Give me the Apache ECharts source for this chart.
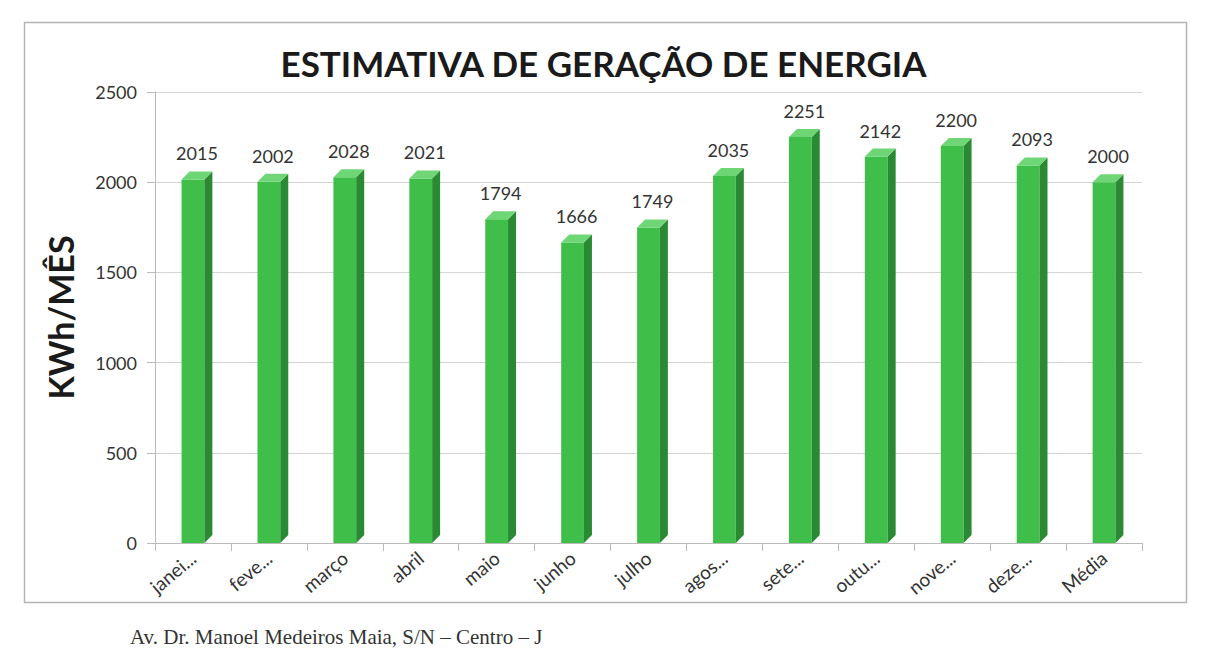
<!DOCTYPE html>
<html><head><meta charset="utf-8">
<script src="https://cdn.jsdelivr.net/npm/echarts@6/dist/echarts.min.js"></script>
<style>html,body{margin:0;padding:0;background:#fff}#c{width:1207px;height:665px}</style>
</head><body><div id="c"></div>
<script>
const categories = ['janei...','feve...','março','abril','maio','junho','julho','agos...','sete...','outu...','nove...','deze...','Média'];
const values = [2015,2002,2028,2021,1794,1666,1749,2035,2251,2142,2200,2093,2000];
const yTicks = [0,500,1000,1500,2000,2500];

const chart = echarts.init(document.getElementById('c'), null, {renderer:'svg'});
const FONT = 'Lato, "Open Sans", sans-serif';
chart.setOption({
  backgroundColor:'#fff',
  animation:false,
  title:{text:'ESTIMATIVA DE GERAÇÃO DE ENERGIA', left:'center', top:40,
    textStyle:{fontFamily:FONT, fontSize:35, fontWeight:'bold', color:'#1a1a1a'}},
  grid:{left:155, right:65, top:92, bottom:122},
  xAxis:{type:'category', data:categories, boundaryGap:true,
    axisLine:{lineStyle:{color:'#bbb'}}, axisTick:{show:true, lineStyle:{color:'#bbb'}, length:8},
    axisLabel:{rotate:40, fontFamily:FONT, fontSize:19, color:'#333', margin:12, interval:0}},
  yAxis:{type:'value', min:0, max:2500, interval:500,
    name:'KWh/MÊS', nameLocation:'middle', nameGap:78, nameRotate:90,
    nameTextStyle:{fontFamily:FONT, fontSize:34, fontWeight:'bold', color:'#1a1a1a'},
    axisLine:{show:true, lineStyle:{color:'#bbb'}}, axisTick:{show:true, lineStyle:{color:'#bbb'}, length:8},
    axisLabel:{fontFamily:FONT, fontSize:18, color:'#333', margin:18,
      formatter:v=> yTicks.includes(v)? String(v):''},
    splitLine:{lineStyle:{color:'#d4d4d4'}}},
  graphic:[
    {type:'rect', left:22, top:20, shape:{width:1162, height:580}, style:{fill:'none', stroke:'#b5b5b5', lineWidth:1.5}, silent:true},
    {type:'text', left:130, top:626, style:{text:'Av. Dr. Manoel Medeiros Maia, S/N – Centro – J', fontFamily:'"Liberation Serif", serif', fontSize:21, fill:'#333'}}
  ],
  series:[{
    type:'custom',
    data: values.map((v,i)=>[i,v]),
    encode:{x:0,y:1},
    renderItem:function(params, api){
      const x = api.value(0), v = api.value(1);
      const top = api.coord([x, v]);
      const base = api.coord([x, 0]);
      const w = api.size([1,0])[0]*0.3;
      const d = 8;
      const l = top[0]-w/2, r = top[0]+w/2;
      return {type:'group', children:[
        {type:'rect', shape:{x:l, y:top[1], width:w, height:base[1]-top[1]}, style:{fill:'#3fbf4a'}},
        {type:'polygon', shape:{points:[[r,top[1]],[r+d,top[1]-d],[r+d,base[1]-d],[r,base[1]]]}, style:{fill:'#2a8a33'}},
        {type:'polygon', shape:{points:[[l,top[1]],[l+d,top[1]-d],[r+d,top[1]-d],[r,top[1]]]}, style:{fill:'#6fd676'}},
        {type:'text', style:{text:String(v), x:top[0]+d/2, y:top[1]-d-9, align:'center', verticalAlign:'bottom',
          fontFamily:FONT, fontSize:18, fill:'#333'}}
      ]};
    }
  }]
});
</script></body></html>
